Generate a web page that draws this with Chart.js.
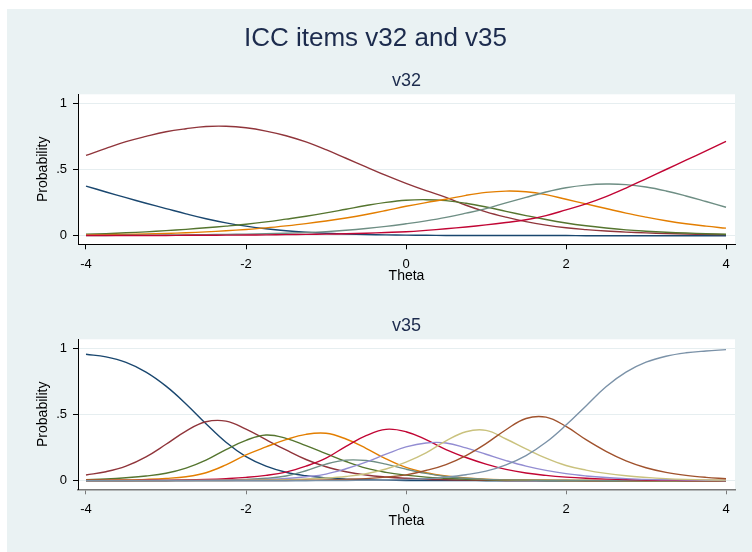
<!DOCTYPE html>
<html>
<head>
<meta charset="utf-8">
<script src="https://cdn.jsdelivr.net/npm/chart.js@4.4.1/dist/chart.umd.min.js"></script>
<style>
  body { margin: 0; background: #fff; width: 752px; height: 552px; overflow: hidden; position: relative; }
  #bg { position: absolute; left: 7px; top: 9px; right: 0; bottom: 0; background: #eaf2f3; }
  canvas { position: absolute; left: 0; }
</style>
</head>
<body>
<div id="bg"></div>
<canvas id="c1" width="752" height="300" style="top:0"></canvas>
<canvas id="c2" width="752" height="252" style="top:300px"></canvas>
<script>
// ability grid (x values shared by every curve)
const theta = [-4, -3.75, -3.5, -3.25, -3, -2.75, -2.5, -2.25, -2, -1.75, -1.5, -1.25, -1, -0.75, -0.5, -0.25,
               0, 0.25, 0.5, 0.75, 1, 1.25, 1.5, 1.75, 2, 2.25, 2.5, 2.75, 3, 3.25, 3.5, 3.75, 4];

const xTickValues = [-4, -2, 0, 2, 4];
const xTickLabels = ['-4', '-2', '0', '2', '4'];
const yTickValues = [0, 0.5, 1];
const yTickLabels = ['0', '.5', '1'];

// item v32 - category curves
const v32cat1 = [.375,.33,.287,.245,.205,.165,.128,.097,.072,.052,.037,.026,.018,.013,.009,.006,
                 .004,.003,.002,.002,.001,.001,.001,.001,.001,0,0,0,0,0,0,0,0];
const v32cat2 = [.606,.66,.71,.75,.785,.808,.825,.827,.815,.79,.755,.708,.65,.585,.52,.455,
                 .395,.34,.29,.23,.18,.14,.106,.08,.06,.046,.035,.027,.021,.016,.013,.01,.008];
const v32cat3 = [.012,.016,.022,.029,.038,.048,.06,.072,.086,.104,.125,.147,.172,.2,.228,.252,
                 .268,.272,.265,.245,.217,.184,.152,.122,.096,.075,.058,.044,.034,.026,.02,.015,.011];
const v32cat4 = [.006,.008,.01,.013,.017,.022,.029,.037,.047,.059,.074,.091,.111,.134,.16,.19,
                 .222,.25,.275,.305,.327,.337,.332,.31,.275,.24,.205,.17,.14,.113,.09,.072,.057];
const v32cat5 = [.002,.002,.003,.004,.005,.006,.008,.01,.012,.015,.019,.024,.031,.041,.054,.07,
                 .09,.112,.138,.17,.205,.248,.29,.33,.362,.382,.39,.386,.368,.338,.3,.258,.215];
const v32cat6 = [.001,.001,.001,.002,.002,.003,.003,.004,.005,.006,.008,.01,.012,.015,.019,.024,
                 .03,.04,.052,.066,.082,.1,.12,.152,.195,.24,.295,.36,.43,.5,.57,.64,.712];

// item v35 - category curves
const v35cat1 = [.955,.935,.893,.82,.714,.58,.43,.29,.182,.11,.064,.037,.021,.012,.007,.004,
                 .002,.001,.001,.001,0,0,0,0,0,0,0,0,0,0,0,0,0];
const v35cat2 = [.043,.068,.11,.18,.275,.375,.445,.45,.39,.31,.232,.16,.105,.068,.043,.028,
                 .018,.011,.007,.004,.003,.002,.001,.001,.001,0,0,0,0,0,0,0,0];
const v35cat3 = [.008,.013,.022,.035,.056,.095,.155,.235,.305,.345,.32,.265,.205,.145,.095,.063,
                 .042,.027,.018,.011,.007,.004,.003,.002,.001,.001,0,0,0,0,0,0,0];
const v35cat4 = [.003,.004,.006,.01,.017,.03,.06,.12,.195,.255,.31,.35,.358,.315,.245,.165,
                 .1,.06,.035,.02,.012,.007,.004,.003,.002,.001,.001,0,0,0,0,0,0];
const v35cat5 = [.001,.001,.001,.002,.002,.003,.004,.006,.01,.018,.035,.075,.125,.155,.152,.125,
                 .087,.055,.032,.018,.01,.006,.004,.002,.001,.001,0,0,0,0,0,0,0];
const v35cat6 = [.001,.001,.002,.003,.004,.006,.01,.016,.025,.04,.065,.11,.17,.26,.34,.388,
                 .37,.31,.235,.175,.125,.085,.058,.04,.027,.018,.012,.008,.005,.003,.002,.001,.001];
const v35cat7 = [0,0,0,.001,.001,.002,.003,.004,.006,.01,.017,.03,.05,.09,.14,.2,
                 .255,.285,.285,.248,.2,.152,.11,.078,.053,.036,.024,.016,.01,.007,.005,.003,.002];
const v35cat8 = [0,0,0,0,.001,.001,.002,.002,.003,.005,.008,.013,.02,.032,.052,.088,
                 .14,.21,.3,.37,.38,.315,.24,.17,.115,.08,.055,.037,.025,.016,.01,.006,.004];
const v35cat9 = [0,0,0,0,0,.001,.001,.001,.001,.002,.002,.003,.006,.01,.016,.027,
                 .044,.077,.122,.19,.28,.385,.47,.48,.41,.31,.222,.15,.098,.063,.04,.025,.015];
const v35cat10 = [0,0,0,0,0,0,0,0,0,0,0,0,.001,.002,.003,.005,
                  .009,.015,.027,.045,.072,.12,.19,.29,.42,.565,.71,.82,.895,.94,.966,.98,.99];

// stata s2color line colours
const palette = ['#1a476f', '#90353b', '#55752f', '#e37e00', '#6e8e84',
                 '#c10534', '#938dd2', '#cac27e', '#a0522d', '#7b92a8'];

const FONT = "'Liberation Sans', Arial, sans-serif";
const TITLE_COL = '#1c2b4d';
const GRID_COL = '#e6eef0';

// white plot region behind the curves
const plotBg = {
  id: 'plotBg',
  beforeDraw(chart) {
    const a = chart.chartArea, ctx = chart.ctx;
    ctx.save();
    ctx.fillStyle = '#fff';
    ctx.fillRect(a.left, a.top, a.right - a.left, a.bottom - a.top);
    ctx.restore();
  }
};

function makePanel(id, cfg) {
  const n = cfg.series.length;
  return new Chart(document.getElementById(id), {
    type: 'line',
    data: {
      datasets: cfg.series.map((s, i) => ({
        data: theta.map((t, j) => ({ x: t, y: s[j] })),
        xAxisID: 'x',
        yAxisID: 'y',
        borderColor: palette[i],
        borderWidth: 1.4,
        pointRadius: 0,
        tension: 0.4,
        fill: false,
        order: n - i
      }))
    },
    options: {
      responsive: false,
      animation: false,
      devicePixelRatio: 1,
      layout: { padding: { left: 16, right: 17, top: 0, bottom: cfg.padBottom } },
      plugins: {
        legend: { display: false },
        tooltip: { enabled: false },
        title: cfg.title ? {
          display: true, text: cfg.title, color: TITLE_COL,
          font: { family: FONT, size: 26, weight: 'normal' },
          padding: { top: 22.9, bottom: 0 }
        } : { display: false }
      },
      scales: {
        x: {
          type: 'linear', position: 'bottom', min: -4.1, max: 4.1125,
          afterBuildTicks: s => { s.ticks = xTickValues.map(v => ({ value: v })); },
          afterFit: s => { s.height = 40.5; },
          ticks: {
            color: '#000', padding: 7, font: { family: FONT, size: 13 },
            callback: (v, i) => xTickLabels[i]
          },
          grid: { drawOnChartArea: false, drawTicks: true, tickLength: 5, tickColor: cfg.xAxisCol },
          border: { color: cfg.xAxisCol, width: cfg.xAxisWidth },
          title: { display: true, text: 'Theta', color: '#000', font: { family: FONT, size: 14 }, padding: { top: 0, bottom: 0 } }
        },
        xt: {
          type: 'linear', position: 'top', min: -4.1, max: 4.1125,
          afterFit: s => { s.height = cfg.topH; },
          ticks: { display: false },
          grid: { display: false },
          border: { display: false },
          title: { display: true, text: cfg.sub, color: TITLE_COL, font: { family: FONT, size: 18 }, padding: { top: cfg.subPad, bottom: 0 } }
        },
        y: {
          type: 'linear', min: -0.065, max: 1.068,
          afterBuildTicks: s => { s.ticks = yTickValues.map(v => ({ value: v })); },
          afterFit: s => { s.width = 62; },
          ticks: {
            color: '#000', padding: 6, font: { family: FONT, size: 13 },
            callback: (v, i) => yTickLabels[i]
          },
          grid: { color: GRID_COL, lineWidth: 1, drawTicks: true, tickLength: 5, tickColor: '#000' },
          border: { color: '#000', width: 1 },
          title: { display: true, text: 'Probability', color: '#000', font: { family: FONT, size: 14 }, padding: { top: 18.8, bottom: 0 } }
        }
      }
    },
    plugins: [plotBg]
  });
}

makePanel('c1', {
  title: 'ICC items v32 and v35', sub: 'v32', topH: 40.2, subPad: 16.1, padBottom: 15.2,
  xAxisCol: '#000', xAxisWidth: 1,
  series: [v32cat1, v32cat2, v32cat3, v32cat4, v32cat5, v32cat6]
});

makePanel('c2', {
  title: null, sub: 'v35', topH: 39.3, subPad: 15.2, padBottom: 22.2,
  xAxisCol: '#7a7a7a', xAxisWidth: 1.5,
  series: [v35cat1, v35cat2, v35cat3, v35cat4, v35cat5, v35cat6, v35cat7, v35cat8, v35cat9, v35cat10]
});
</script>
</body>
</html>
